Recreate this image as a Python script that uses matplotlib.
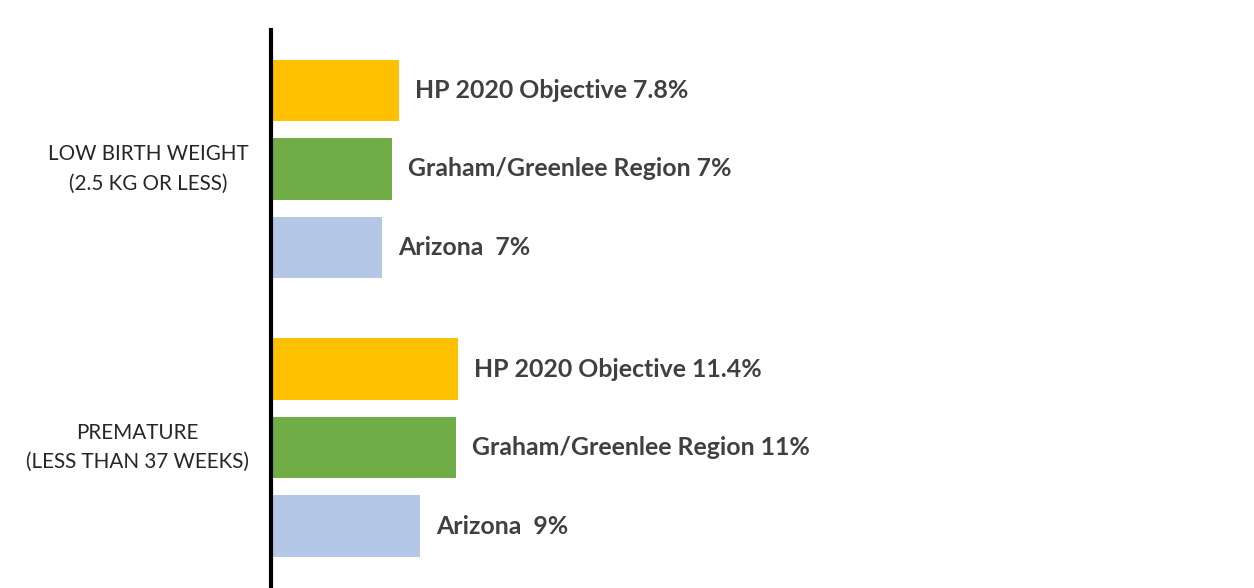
import matplotlib.pyplot as plt

plt.rcParams['font.family'] = ['Lato', 'DejaVu Sans']

# data
groups = ["LOW BIRTH WEIGHT\n(2.5 KG OR LESS)", "PREMATURE\n(LESS THAN 37 WEEKS)"]
series = ["HP 2020 Objective", "Graham/Greenlee Region", "Arizona"]
low_birth_weight = [7.8, 7.4, 6.8]
premature = [11.4, 11.3, 9.1]
low_birth_labels = ["HP 2020 Objective 7.8%", "Graham/Greenlee Region 7%", "Arizona  7%"]
premature_labels = ["HP 2020 Objective 11.4%", "Graham/Greenlee Region 11%", "Arizona  9%"]
colors = ["#FFC000", "#70AD47", "#B4C7E7"]

W, H = 1254, 588
fig = plt.figure(figsize=(W / 100, H / 100), dpi=100)
ax = fig.add_axes([271 / W, 0, 1 - 271 / W, (H - 30) / H])

group_gap = 1.55
values = [low_birth_weight, premature]
labels = [low_birth_labels, premature_labels]
for g in range(len(groups)):
    base = g * (len(series) - 1 + group_gap)
    pos = [base + i for i in range(len(series))]
    bars = ax.barh(pos, values[g], height=0.78, color=colors)
    for b, lab in zip(bars, labels[g]):
        ax.annotate(lab, (b.get_width(), b.get_y() + b.get_height() / 2),
                    xytext=(11.5, 0), textcoords="offset points",
                    ha="left", va="center", fontsize=17.9, fontweight="bold",
                    color="#404040")
    ax.text(-0.0225, base + 1, groups[g], transform=ax.get_yaxis_transform(),
            ha="right", va="center", multialignment="center",
            fontsize=14.9, color="#262626", linespacing=1.6)

ax.set_xlim(0, 60)
ax.set_ylim(6.34, -0.77)
ax.set_xticks([])
ax.set_yticks([])
for s in ["top", "right", "bottom"]:
    ax.spines[s].set_visible(False)
ax.spines["left"].set_linewidth(3)
ax.spines["left"].set_color("black")

fig.savefig("out.png", dpi=100)
